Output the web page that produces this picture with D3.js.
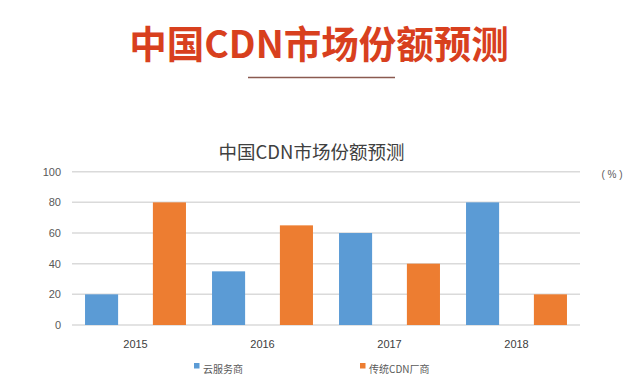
<!DOCTYPE html>
<html>
<head>
<meta charset="utf-8">
<script src="https://cdn.jsdelivr.net/npm/d3@7"></script>
<style>
html,body{margin:0;padding:0;background:#fff;}
svg{display:block;}
</style>
</head>
<body>
<svg id="chart" width="638" height="390"></svg>
<script>
const categories = ["2015", "2016", "2017", "2018"];
const seriesNames = ["云服务商", "传统CDN厂商"];
const cloudValues = [20, 35, 60, 80];
const traditionalValues = [80, 65, 40, 20];
const yTicks = [0, 20, 40, 60, 80, 100];
const mainTitle = "中国CDN市场份额预测";
const chartTitle = "中国CDN市场份额预测";
const unitLabel = "( % )";
const colors = ["#5b9bd5", "#ed7d31"];

(function () {
const svg = d3.select("#chart");
const cjk = "'Noto Sans CJK SC','Noto Sans',sans-serif";
const num = "'Liberation Sans','DejaVu Sans',sans-serif";

// Headline
svg.append("text")
  .attr("x", 319).attr("y", 58)
  .attr("text-anchor", "middle")
  .attr("font-family", cjk).attr("font-weight", 700).attr("font-size", 37.5)
  .attr("fill", "#d8401e")
  .text(mainTitle);
svg.append("line")
  .attr("x1", 248).attr("x2", 395).attr("y1", 77.5).attr("y2", 77.5)
  .attr("stroke", "#8a5a50").attr("stroke-width", 1.5);

// Chart title
svg.append("text")
  .attr("x", 311.5).attr("y", 159)
  .attr("text-anchor", "middle")
  .attr("font-family", cjk).attr("font-weight", 400).attr("font-size", 18.5)
  .attr("fill", "#404040")
  .text(chartTitle);

const pLeft = 72, pRight = 580, pTop = 171.7, pBottom = 325;
const x = d3.scaleBand().domain(categories).range([pLeft, pRight]);
const inner = d3.scaleBand().domain([0, 1]).range([0, x.bandwidth()]).paddingInner(0.5126).paddingOuter(0.192);
const y = d3.scaleLinear().domain([0, 100]).range([pBottom, pTop]);

// gridlines
svg.append("g").selectAll("line").data(yTicks).join("line")
  .attr("x1", pLeft).attr("x2", pRight)
  .attr("y1", d => y(d)).attr("y2", d => y(d))
  .attr("stroke", "#dadada").attr("stroke-width", 1.5);

// y axis labels
const yAxis = d3.axisLeft(y).tickValues(yTicks).tickSize(0).tickPadding(0);
const ya = svg.append("g").attr("transform", `translate(61,0)`).call(yAxis);
ya.select(".domain").remove();
ya.selectAll("text").attr("font-family", num).attr("font-size", 11).attr("fill", "#595959");

// x axis labels
const xAxis = d3.axisBottom(x).tickSize(0).tickPadding(0);
const xa = svg.append("g").attr("transform", `translate(0,340)`).call(xAxis);
xa.select(".domain").remove();
xa.selectAll("text").attr("font-family", num).attr("font-size", 11).attr("fill", "#404040");

// bars
const series = [cloudValues, traditionalValues];
series.forEach((vals, si) => {
  svg.append("g").selectAll("rect").data(vals).join("rect")
    .attr("x", (d, i) => x(categories[i]) + inner(si))
    .attr("width", inner.bandwidth())
    .attr("y", d => y(d))
    .attr("height", d => y(0) - y(d))
    .attr("fill", colors[si]);
});

// unit label
svg.append("text")
  .attr("x", 612).attr("y", 178)
  .attr("text-anchor", "middle")
  .attr("font-family", num).attr("font-size", 10)
  .attr("fill", "#595959")
  .text(unitLabel);

// legend
const legendX = [194, 360];
seriesNames.forEach((name, i) => {
  const g = svg.append("g").attr("transform", `translate(${legendX[i]},363)`);
  g.append("rect").attr("width", 5.5).attr("height", 5.5).attr("fill", colors[i]);
  g.append("text").attr("x", 9).attr("y", 9.5)
    .attr("font-family", cjk).attr("font-size", 10).attr("fill", "#595959")
    .text(name);
});
})();
</script>
</body>
</html>
